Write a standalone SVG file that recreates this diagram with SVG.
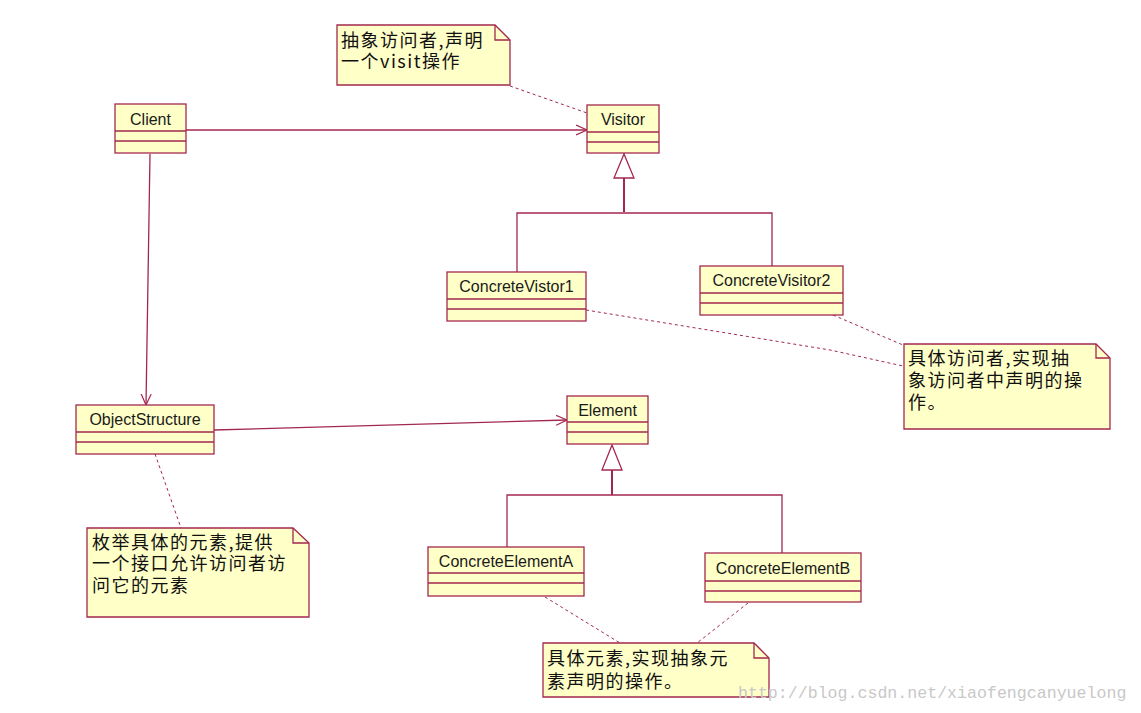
<svg xmlns="http://www.w3.org/2000/svg" width="1141" height="713" viewBox="0 0 1141 713">
<defs>
<style>
.box{fill:#ffffc8;stroke:#a3284f;stroke-width:1.3}
.ln{stroke:#a3284f;stroke-width:1.3;fill:none}
.dash{stroke:#a3284f;stroke-width:1;fill:none;stroke-dasharray:3,3}
.cn{font-family:"Liberation Sans",Arial,sans-serif;font-size:16px;fill:#1a1a1a;text-anchor:middle}
.nt{font-family:"Noto Sans CJK SC",sans-serif;font-size:18px;letter-spacing:1.5px;fill:#111}
</style>
<marker id="open" viewBox="0 0 12 12" refX="11" refY="6" markerWidth="12" markerHeight="12" markerUnits="userSpaceOnUse" orient="auto">
<path d="M0,1 L11,6 L0,11" fill="none" stroke="#a3284f" stroke-width="1.2"/>
</marker>
</defs>
<rect width="1141" height="713" fill="#fff"/>
<g id="connectors">
<line class="ln" x1="186" y1="130" x2="587" y2="130" marker-end="url(#open)"/>
<line class="ln" x1="150" y1="154" x2="146" y2="405" marker-end="url(#open)"/>
<line class="ln" x1="214" y1="430" x2="567" y2="420" marker-end="url(#open)"/>
<polygon points="624,154 614,178 634,178" fill="#fff" stroke="#a3284f" stroke-width="1.3"/>
<polyline class="ln" points="624,178 624,212" style="stroke-width:2"/>
<polyline class="ln" points="517,272 517,213 772,213 772,266"/>
<polygon points="612,445 602,470 622,470" fill="#fff" stroke="#a3284f" stroke-width="1.3"/>
<polyline class="ln" points="612,470 612,495" style="stroke-width:2"/>
<polyline class="ln" points="507,547 507,495 782,495 782,553"/>
<line class="dash" x1="510" y1="86" x2="587" y2="113"/>
<polyline class="dash" points="586,310 830,350 903,366"/>
<line class="dash" x1="833" y1="315" x2="903" y2="345"/>
<line class="dash" x1="155" y1="454" x2="181" y2="528"/>
<line class="dash" x1="545" y1="597" x2="620" y2="643"/>
<line class="dash" x1="748" y1="603" x2="697" y2="643"/>
</g>
<g id="client">
<rect class="box" x="115" y="104" width="71" height="49"/>
<line class="ln" x1="115" y1="131" x2="186" y2="131"/>
<line class="ln" x1="115" y1="141" x2="186" y2="141"/>
<text class="cn" x="150.5" y="125">Client</text>
</g>
<g id="visitor">
<rect class="box" x="587" y="105" width="72" height="48"/>
<line class="ln" x1="587" y1="132" x2="659" y2="132"/>
<line class="ln" x1="587" y1="142" x2="659" y2="142"/>
<text class="cn" x="623" y="125">Visitor</text>
</g>
<g id="concreteVistor1">
<rect class="box" x="447" y="272" width="139" height="49"/>
<line class="ln" x1="447" y1="299" x2="586" y2="299"/>
<line class="ln" x1="447" y1="309" x2="586" y2="309"/>
<text class="cn" x="516.5" y="292">ConcreteVistor1</text>
</g>
<g id="concreteVisitor2">
<rect class="box" x="700" y="266" width="143" height="49"/>
<line class="ln" x1="700" y1="293" x2="843" y2="293"/>
<line class="ln" x1="700" y1="303" x2="843" y2="303"/>
<text class="cn" x="771.5" y="286">ConcreteVisitor2</text>
</g>
<g id="objectStructure">
<rect class="box" x="76" y="405" width="138" height="49"/>
<line class="ln" x1="76" y1="432" x2="214" y2="432"/>
<line class="ln" x1="76" y1="442" x2="214" y2="442"/>
<text class="cn" x="145" y="425">ObjectStructure</text>
</g>
<g id="element">
<rect class="box" x="567" y="396" width="81" height="48"/>
<line class="ln" x1="567" y1="422" x2="648" y2="422"/>
<line class="ln" x1="567" y1="432" x2="648" y2="432"/>
<text class="cn" x="607.5" y="416">Element</text>
</g>
<g id="concreteElementA">
<rect class="box" x="428" y="547" width="156" height="49"/>
<line class="ln" x1="428" y1="573" x2="584" y2="573"/>
<line class="ln" x1="428" y1="583" x2="584" y2="583"/>
<text class="cn" x="506" y="567">ConcreteElementA</text>
</g>
<g id="concreteElementB">
<rect class="box" x="705" y="553" width="156" height="49"/>
<line class="ln" x1="705" y1="581" x2="861" y2="581"/>
<line class="ln" x1="705" y1="591" x2="861" y2="591"/>
<text class="cn" x="783" y="574">ConcreteElementB</text>
</g>
<g id="note-visitor">
<path class="box" d="M337,25 L495,25 L510,40 L510,85 L337,85 Z"/>
<path class="ln" d="M495,25 L495,40 L510,40"/>
<text class="nt" x="341" y="47">抽象访问者,声明</text>
<text class="nt" x="341" y="68">一个visit操作</text>
</g>
<g id="note-concrete-visitor">
<path class="box" d="M904,344 L1096,344 L1110,358 L1110,429 L904,429 Z"/>
<path class="ln" d="M1096,344 L1096,358 L1110,358"/>
<text class="nt" x="908" y="365">具体访问者,实现抽</text>
<text class="nt" x="908" y="387">象访问者中声明的操</text>
<text class="nt" x="908" y="409">作。</text>
</g>
<g id="note-object-structure">
<path class="box" d="M87,528 L293,528 L309,543 L309,617 L87,617 Z"/>
<path class="ln" d="M293,528 L293,543 L309,543"/>
<text class="nt" x="92" y="549">枚举具体的元素,提供</text>
<text class="nt" x="92" y="570">一个接口允许访问者访</text>
<text class="nt" x="92" y="592">问它的元素</text>
</g>
<g id="note-element">
<path class="box" d="M543,643 L754,643 L769,658 L769,697 L543,697 Z"/>
<path class="ln" d="M754,643 L754,658 L769,658"/>
<text class="nt" x="547" y="665">具体元素,实现抽象元</text>
<text class="nt" x="547" y="688">素声明的操作。</text>
</g>
<text x="738" y="698" font-family="'Liberation Mono',monospace" font-size="16.6" fill="#c8c8c8">http://blog.csdn.net/xiaofengcanyuelong</text>
</svg>
